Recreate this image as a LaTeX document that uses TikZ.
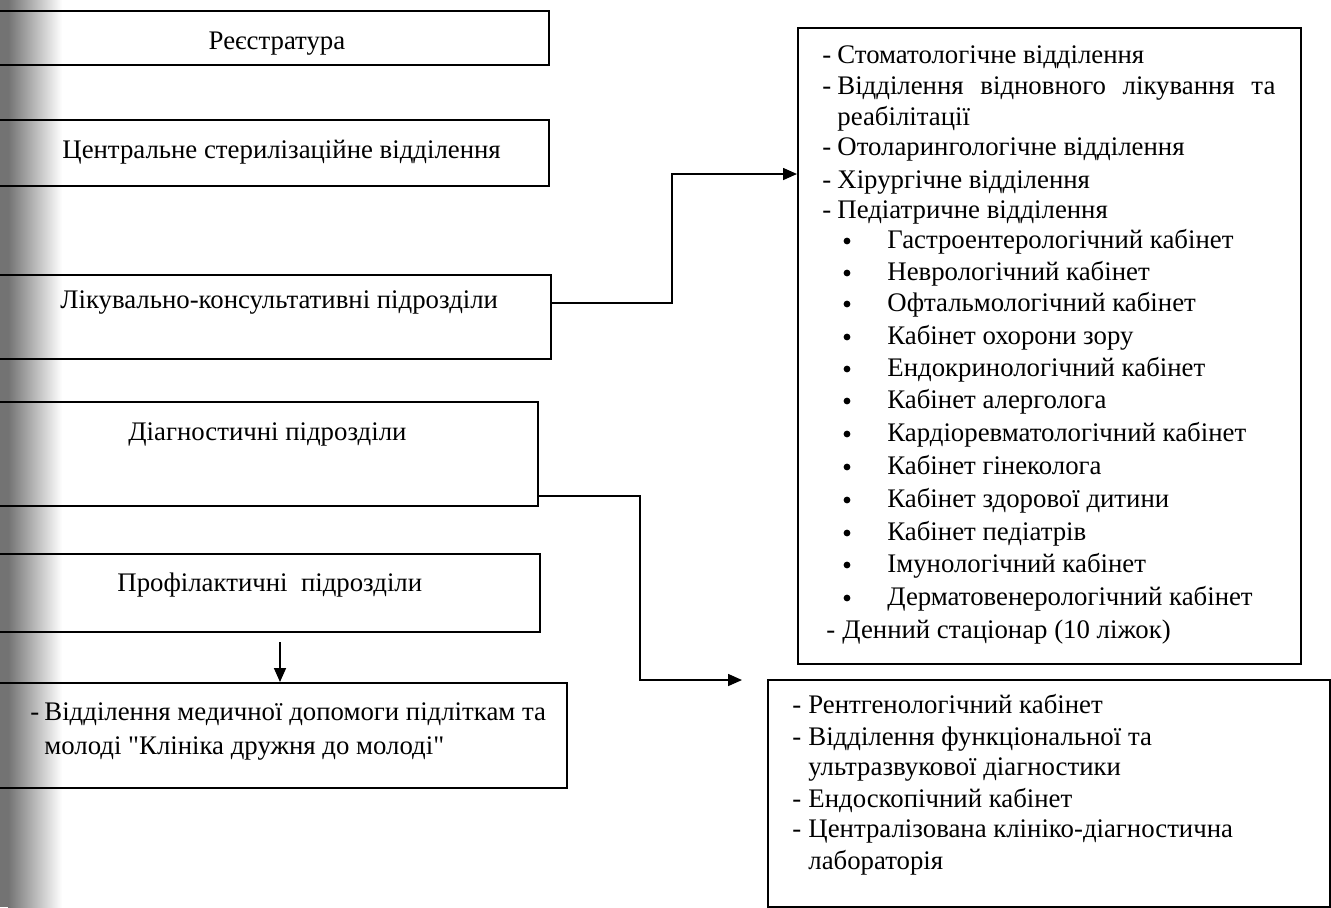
\documentclass[tikz,border=0pt]{standalone}
\usepackage{fontspec}
\setmainfont{Liberation Serif}[Ligatures=TeXOff]
\usetikzlibrary{arrows.meta}
\begin{document}
\begin{tikzpicture}[x=0.5pt,y=-0.5pt,
  box/.style={draw, line width=0.8pt, inner sep=0pt, anchor=north west},
  txt/.style={inner sep=0pt, anchor=base west, font=\fontsize{13.4pt}{16pt}\selectfont},
  bul/.style={circle, fill, inner sep=0pt, minimum size=3.4pt},
  conn/.style={line width=0.8pt, -{Triangle[length=7pt,width=6pt]}}]
\useasboundingbox (0,0) rectangle (1331,907);
\fill[white] (0,0) rectangle (1331,907);
\shade[left color=black!55, right color=white] (8,0) rectangle (62,907);
\fill[black!55] (0,0) rectangle (8,907);

% left boxes
\node[box, minimum width=275.5pt, minimum height=27pt] (b1) at (-3,10) {};
\node[box, minimum width=275.5pt, minimum height=33pt] (b2) at (-3,119) {};
\node[box, minimum width=276.5pt, minimum height=42pt] (b3) at (-3,274) {};
\node[box, minimum width=270pt, minimum height=52pt] (b4) at (-3,401) {};
\node[box, minimum width=271pt, minimum height=39pt] (b5) at (-3,553) {};
\node[box, minimum width=284.5pt, minimum height=52.5pt] (b6) at (-3,682) {};
% right boxes
\node[box, minimum width=251.5pt, minimum height=318pt] (r1) at (797,27) {};
\node[box, minimum width=281pt, minimum height=113.5pt] (r2) at (767,679) {};

% left texts
\node[txt, anchor=base] (t1) at (277,49) {Реєстратура};
\node[txt] (t2) at (62,158) {Центральне стерилізаційне відділення};
\node[txt] (t3) at (60,308) {Лікувально-консультативні підрозділи};
\node[txt] (t4) at (128,440) {Діагностичні підрозділи};
\node[txt] (t5) at (117,591) {Профілактичні\ \ підрозділи};
\node[txt] (t6a) at (30,720) {-};
\node[txt] (t6b) at (44,720) {Відділення медичної допомоги підліткам та};
\node[txt] (t6c) at (44,754) {молоді "Клініка дружня до молоді"};

% right box 1 texts
\node[txt] (d1) at (822,63) {-};
\node[txt] (l1) at (837,63) {Стоматологічне відділення};
\node[txt] (d2) at (822,94) {-};
\node[txt] (l2) at (837,94) {\hbox to 219pt{Відділення\hfill відновного\hfill лікування\hfill та}};
\node[txt] (l3) at (837,125) {реабілітації};
\node[txt] (d4) at (822,155) {-};
\node[txt] (l4) at (837,155) {Отоларингологічне відділення};
\node[txt] (d5) at (822,188) {-};
\node[txt] (l5) at (837,188) {Хірургічне відділення};
\node[txt] (d6) at (822,218) {-};
\node[txt] (l6) at (837,218) {Педіатричне відділення};
\foreach \y/\t [count=\i] in {248/Гастроентерологічний кабінет,
  280/Неврологічний кабінет, 311/Офтальмологічний кабінет,
  344/Кабінет охорони зору, 376/Ендокринологічний кабінет,
  408/Кабінет алерголога, 441/Кардіоревматологічний кабінет,
  474/Кабінет гінеколога, 507/Кабінет здорової дитини,
  540/Кабінет педіатрів, 572/Імунологічний кабінет,
  605/Дерматовенерологічний кабінет}{
  \node[bul] (bu\i) at (847,\y-7) {};
  \node[txt] (bt\i) at (887,\y) {\t};
}
\node[txt] (d7) at (826,638) {-};
\node[txt] (l7) at (842,638) {Денний стаціонар (10 ліжок)};

% right box 2 texts
\node[txt] (e1) at (792,713) {-};
\node[txt] (m1) at (808,713) {Рентгенологічний кабінет};
\node[txt] (e2) at (792,745) {-};
\node[txt] (m2) at (808,745) {Відділення функціональної та};
\node[txt] (m3) at (808,775) {ультразвукової діагностики};
\node[txt] (e4) at (792,807) {-};
\node[txt] (m4) at (808,807) {Ендоскопічний кабінет};
\node[txt] (e5) at (792,837) {-};
\node[txt] (m5) at (808,837) {Централізована клініко-діагностична};
\node[txt] (m6) at (808,869) {лабораторія};

% connectors
\coordinate (k1) at (672,174);
\coordinate (k2) at (640,680);
\coordinate (tip2) at (742,680);
\coordinate (a3) at (280,642);
\draw[conn] ([yshift=7pt]b3.east) -| (k1) -- (r1.west |- k1);
\draw[conn] ([yshift=-21pt]b4.east) -| (k2) -- (tip2);
\draw[conn] (a3) -- (a3 |- b6.north);
\end{tikzpicture}
\end{document}
